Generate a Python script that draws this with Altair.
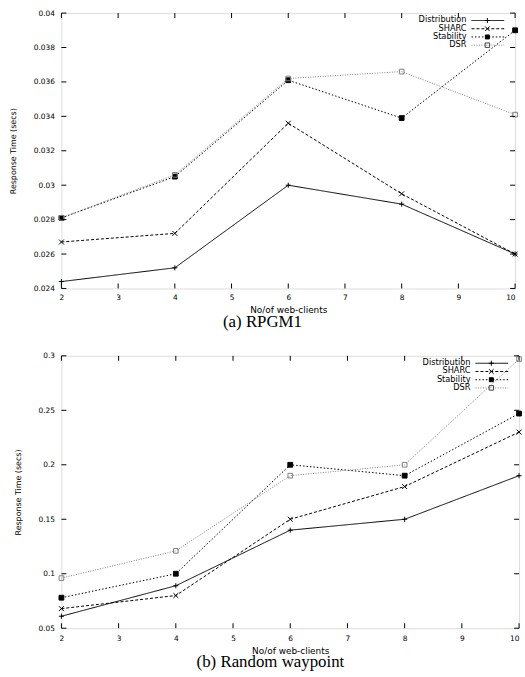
import altair as alt
import pandas as pd

# ---------------- data ----------------
clients = [2, 4, 6, 8, 10]
series = ["Distribution", "SHARC", "Stability", "DSR"]

rpgm_distribution = [0.0244, 0.0252, 0.0300, 0.0289, 0.0260]
rpgm_sharc = [0.0267, 0.0272, 0.0336, 0.0295, 0.0260]
rpgm_stability = [0.0281, 0.0305, 0.0361, 0.0339, 0.0390]
rpgm_dsr = [0.0281, 0.0306, 0.0362, 0.0366, 0.0341]

rw_distribution = [0.061, 0.089, 0.140, 0.150, 0.190]
rw_sharc = [0.068, 0.080, 0.150, 0.180, 0.230]
rw_stability = [0.078, 0.100, 0.200, 0.190, 0.247]
rw_dsr = [0.096, 0.121, 0.190, 0.200, 0.297]

x_ticks = [2, 3, 4, 5, 6, 7, 8, 9, 10]
rpgm_y_ticks = [0.024, 0.026, 0.028, 0.03, 0.032, 0.034, 0.036, 0.038, 0.04]
rw_y_ticks = [0.05, 0.1, 0.15, 0.2, 0.25, 0.3]

x_title = "No/of web-clients"
y_title = "Response Time (secs)"
caption_a = "(a)  RPGM1"
caption_b = "(b)  Random waypoint"

# ---------------- styles ----------------
colors = ["black", "black", "black", "#808080"]
dashes = [[1, 0], [3, 2], [1.5, 2], [1, 1.5]]
shapes = ["M-1,0H1M0,-1V1", "M-1,-1L1,1M-1,1L1,-1", "square", "square"]
fills = ["transparent", "transparent", "black", "transparent"]
marker_strokes = ["black", "black", "black", "#404040"]
marker_sizes = [26, 22, 16, 20]

SANS = "DejaVu Sans"
SERIF = "Liberation Serif"


def panel(values, y_ticks, y_domain, width, height, caption, cap_x, cap_y,
          lab_pad_x):
    rows = []
    for s, vals in zip(series, values):
        for c, v in zip(clients, vals):
            rows.append({"client": c, "series": s, "value": v})
    df = pd.DataFrame(rows)

    x_scale = alt.Scale(domain=[2, 10], nice=False, zero=False)
    y_scale = alt.Scale(domain=y_domain, nice=False, zero=False)
    x_axis = alt.Axis(
        values=x_ticks, format="d", title=x_title, ticks=False, tickSize=0,
        domain=False, grid=False, labelFont=SANS, labelFontSize=7.5,
        labelPadding=lab_pad_x, labelColor="black", labelOverlap=False,
        labelFlush=False,
        labelAlign={"condition": {"test": "datum.value == 10", "value": "right"},
                    "value": "center"},
        titleFont=SANS, titleFontSize=9, titleFontWeight="normal",
        titlePadding=5, titleColor="black",
    )
    y_axis = alt.Axis(
        values=y_ticks, format="~g", title=y_title, ticks=False, tickSize=0,
        domain=False, grid=False, labelFont=SANS, labelFontSize=7.5,
        labelPadding=7, labelColor="black", labelOverlap=False,
        titleFont=SANS, titleFontSize=8, titleFontWeight="normal",
        titlePadding=16, titleColor="black",
    )

    def X():
        return alt.X("client:Q", scale=x_scale, axis=x_axis)

    def Y():
        return alt.Y("value:Q", scale=y_scale, axis=y_axis)

    stroke_scale = alt.Scale(domain=series, range=colors)
    dash_scale = alt.Scale(domain=series, range=dashes)

    base = alt.Chart(df).encode(x=X(), y=Y())
    lines = base.mark_line(strokeWidth=1).encode(
        stroke=alt.Stroke("series:N", scale=stroke_scale, legend=None),
        strokeDash=alt.StrokeDash("series:N", scale=dash_scale, legend=None),
    )
    points = base.mark_point(filled=True, strokeWidth=1, opacity=1).encode(
        shape=alt.Shape("series:N", scale=alt.Scale(domain=series, range=shapes), legend=None),
        fill=alt.Fill("series:N", scale=alt.Scale(domain=series, range=fills), legend=None),
        stroke=alt.Stroke("series:N", scale=alt.Scale(domain=series, range=marker_strokes), legend=None),
        size=alt.Size("series:N", scale=alt.Scale(domain=series, range=marker_sizes), legend=None),
    )

    # inward (mirrored) ticks, like gnuplot
    xt = pd.DataFrame({"client": x_ticks})
    yt = pd.DataFrame({"value": y_ticks})
    tl = 5
    tick_layers = [
        alt.Chart(xt).mark_rule(color="black", strokeWidth=1).encode(
            x=X(), y=alt.value(height), y2=alt.value(height - tl)),
        alt.Chart(xt).mark_rule(color="black", strokeWidth=1).encode(
            x=X(), y=alt.value(0), y2=alt.value(tl)),
        alt.Chart(yt).mark_rule(color="black", strokeWidth=1).encode(
            y=Y(), x=alt.value(0), x2=alt.value(tl)),
        alt.Chart(yt).mark_rule(color="black", strokeWidth=1).encode(
            y=Y(), x=alt.value(width - tl), x2=alt.value(width)),
    ]

    # gnuplot-style key: label, then line sample with marker
    key_layers = []
    text_right = width - 49
    for i, s in enumerate(series):
        ky = 7.5 + 8.3 * i
        one = pd.DataFrame({"series": [s]})
        key_layers.append(
            alt.Chart(one).mark_text(align="right", baseline="middle", font=SANS,
                                     fontSize=8.3, color="black").encode(
                text="series:N", x=alt.value(text_right), y=alt.value(ky)))
        key_layers.append(
            alt.Chart(one).mark_rule(color=colors[i], strokeDash=dashes[i], strokeWidth=1).encode(
                x=alt.value(text_right + 5), x2=alt.value(text_right + 38), y=alt.value(ky)))
        key_layers.append(
            alt.Chart(one).mark_point(shape=shapes[i], filled=True, fill=fills[i],
                                      stroke=marker_strokes[i], strokeWidth=1,
                                      size=marker_sizes[i], opacity=1).encode(
                x=alt.value(text_right + 21), y=alt.value(ky)))

    cap = alt.Chart(pd.DataFrame({"c": [caption]})).mark_text(
        font=SERIF, fontSize=17, align="center", baseline="alphabetic", color="black"
    ).encode(text="c:N", x=alt.value(cap_x), y=alt.value(cap_y))

    return alt.layer(lines, points, *tick_layers, *key_layers, cap).properties(
        width=width, height=height)


top = panel([rpgm_distribution, rpgm_sharc, rpgm_stability, rpgm_dsr],
            rpgm_y_ticks, [0.024, 0.04], 458, 278, caption_a, 203, 317, 5)
bottom = panel([rw_distribution, rw_sharc, rw_stability, rw_dsr],
               rw_y_ticks, [0.05, 0.3], 462, 275, caption_b, 211, 314, 6)

chart = alt.vconcat(top, bottom, spacing=20).properties(
    padding={"left": 9, "top": 5, "right": 0, "bottom": 0}
).configure_view(stroke="black", strokeWidth=1).configure(background="white")

chart.save("out.html", embed_options={"renderer": "svg", "actions": False})
